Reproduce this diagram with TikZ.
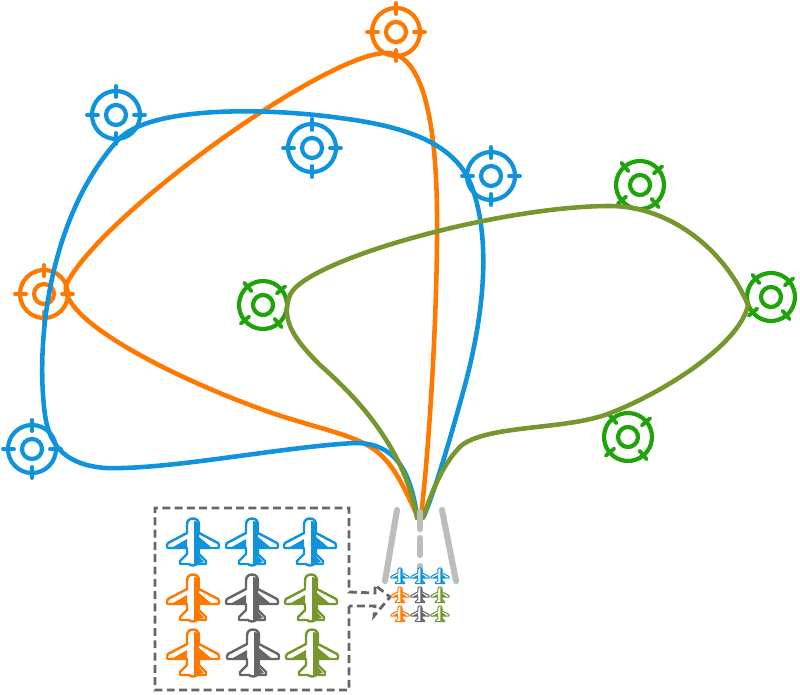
\documentclass[tikz,border=0pt]{standalone}
\definecolor{skyblue}{HTML}{0F93DC}
\definecolor{flyorange}{HTML}{FF7800}
\definecolor{ringgreen}{HTML}{1FA30A}
\definecolor{olive}{HTML}{76962E}
\definecolor{planegray}{HTML}{666666}
\definecolor{runway}{HTML}{BDBDBD}
\tikzset{
  route/.style={line width=2.6pt, line cap=round},
  strip/.style={line width=3.5pt, line cap=round, color=runway},
  pics/target/.style={code={
    \draw[line width=2.4pt, #1] (0,0) circle (10);
    \draw[line width=2.4pt, #1] (0,0) circle (24);
    \foreach \a in {0,90,180,270}
      \draw[line width=2.2pt, line cap=round, #1] (\a:18) -- (\a:29);
  }},
  pics/plane/.style 2 args={code={
    \draw[line width=#2, #1, fill=white, line join=round]
      (0,-23.5) .. controls (4,-23.5) and (6,-21) .. (6,-17) -- (6,-9) -- (25,1) -- (26,3) -- (26,5) -- (25,6)
      -- (6,6) -- (6,12) -- (13,19) -- (13,22) -- (4,22) .. controls (2,24) and (-2,24) .. (-4,22)
      -- (-13,22) -- (-13,19) -- (-6,12) -- (-6,6) -- (-25,6) -- (-26,5) -- (-26,3) -- (-25,1) -- (-6,-9)
      -- (-6,-17) .. controls (-6,-21) and (-4,-23.5) .. (0,-23.5) -- cycle;
    \fill[#1] (1,-21) .. controls (4,-21) and (6,-20) .. (6,-17) -- (6,21) -- (1,22) -- cycle;
    \fill[#1] (6,-5) -- (6,5) -- (18,5) -- cycle;
    \fill[#1] (-6,-3) -- (-6,5) -- (-20,5) -- cycle;
    \fill[#1] (6,14) -- (11,20) -- (6,21) -- cycle;
  }},
}
\begin{document}
\begin{tikzpicture}[x=0.02cm, y=-0.02cm]
  \useasboundingbox (0,0) rectangle (800,695);
  \coordinate (B1) at (116,115);
  \coordinate (B2) at (312,148);
  \coordinate (B3) at (491,176);
  \coordinate (B4) at (32,449);
  \coordinate (O1) at (396,32);
  \coordinate (O2) at (44,294);
  \coordinate (G1) at (263,305);
  \coordinate (G2) at (640,185);
  \coordinate (G3) at (771,297);
  \coordinate (G4) at (628,437);
  % targets
  \foreach \t in {B1,B2,B3,B4}
    \pic at (\t) {target=skyblue};
  \foreach \t in {O1,O2}
    \pic at (\t) {target=flyorange};
  \foreach \t in {G1,G2,G3,G4}
    \pic[rotate=40] at (\t) {target=ringgreen};
  % routes
  \draw[route, flyorange] (421,516) .. controls (430,440) and (438,300) .. (437,210)
    .. controls (436,130) and (425,55) .. (388,53)
    .. controls (330,50) and (100,215) .. (66,285)
    .. controls (60,320) and (170,375) .. (250,405)
    .. controls (310,428) and (350,432) .. (375,450)
    .. controls (395,465) and (405,490) .. (417,515);
  \draw[route, skyblue] (417,515) .. controls (410,470) and (395,443) .. (355,443)
    .. controls (280,447) and (170,470) .. (105,468)
    .. controls (70,465) and (50,450) .. (45,415)
    .. controls (35,340) and (50,215) .. (118,140)
    .. controls (150,105) and (270,108) .. (340,118)
    .. controls (420,128) and (460,150) .. (473,190)
    .. controls (490,240) and (485,310) .. (465,385)
    .. controls (450,440) and (435,490) .. (424,516);
  \draw[route, olive] (417,518) .. controls (405,450) and (360,400) .. (320,365)
    .. controls (295,340) and (280,320) .. (290,295)
    .. controls (305,260) and (500,206) .. (610,206)
    .. controls (670,206) and (725,250) .. (748,305)
    .. controls (740,345) and (660,395) .. (605,415)
    .. controls (560,430) and (490,425) .. (462,445)
    .. controls (445,460) and (432,490) .. (423,518);
  % runway
  \draw[strip] (397,510) -- (385,581);
  \draw[strip] (442,510) -- (456,581);
  \draw[strip] (420,512) -- (420,529);
  \draw[strip] (420,538) -- (420,555);
  \draw[strip] (420,566) -- (420,572);
  % inset frame and arrow
  \draw[line width=1.6pt, planegray, dash pattern=on 4.5pt off 2.5pt]
    (349,606) -- (349,690) -- (155,690) -- (155,508) -- (349,508) -- (349,592)
    -- (375,593) -- (375,585) -- (390,597) -- (374,616) -- (375,606) -- (349,606);
  % fleet
  \foreach \x/\y/\c in {193/542/skyblue, 252/542/skyblue, 310/542/skyblue,
      193/598/flyorange, 252/598/planegray, 311/598/olive,
      193/653/flyorange, 253/653/planegray, 312/653/olive}
    \pic at (\x,\y) {plane={\c}{1.4pt}};
  \foreach \x/\y/\c in {400/576/skyblue, 420/576/skyblue, 440/576/skyblue,
      400/595/flyorange, 420/595/planegray, 440/595/olive,
      400/614/flyorange, 420/614/planegray, 440/614/olive}
    \pic[scale=0.35] at (\x,\y) {plane={\c}{0.6pt}};
\end{tikzpicture}
\end{document}
